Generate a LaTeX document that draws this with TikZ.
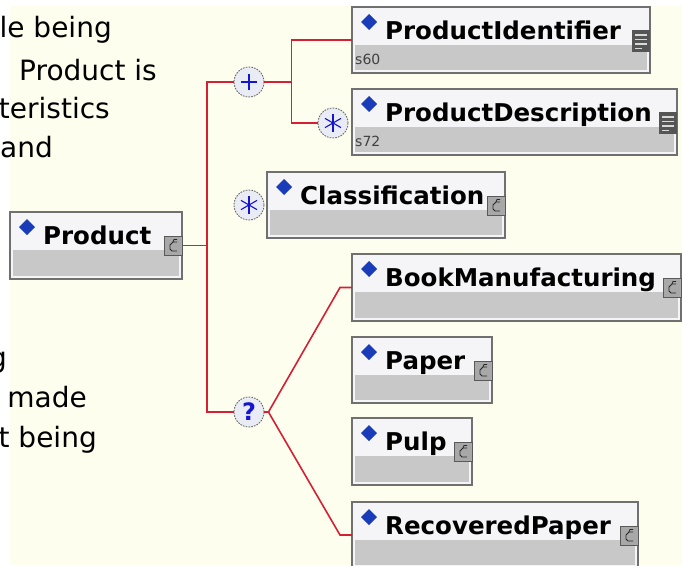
\documentclass[tikz,border=0pt]{standalone}
\usepackage{fontspec}
\setmainfont{DejaVu Sans}
\definecolor{bg}{HTML}{FEFEEF}
\definecolor{redl}{HTML}{D42035}
\definecolor{boxb}{HTML}{707070}
\definecolor{hdr}{HTML}{F5F5F8}
\definecolor{bandc}{HTML}{C8C8C8}
\definecolor{symb}{HTML}{1515D0}
\definecolor{diamc}{HTML}{1A3CB8}
\definecolor{circf}{HTML}{E9ECF4}
\definecolor{iconf}{HTML}{A8A8A8}
\definecolor{docf}{HTML}{555555}
\tikzset{
  ebox/.style={draw=boxb, fill=hdr, line width=1.5pt, rectangle, anchor=north west, inner sep=0pt, outer sep=0pt},
  bandfill/.style={fill=bandc},
  diamfill/.style={fill=diamc},
  etitle/.style={anchor=base west, inner sep=0pt, font=\bfseries\fontsize{24.5}{24.5}\selectfont},
  esub/.style={anchor=base west, inner sep=0pt, text=black!75, font=\fontsize{14}{14}\selectfont},
  iconb/.style={draw=black!65, fill=iconf, line width=1pt},
  glyph/.style={draw=black!85, line width=0.8pt},
  docl/.style={draw=white!85!black, line width=1.2pt},
  conn/.style={draw=redl, line width=1.6pt},
  circ/.style={circle, minimum size=30pt, inner sep=0pt, draw=black!60, dash pattern=on 1.6pt off 1.2pt, line width=0.9pt, fill=circf},
  symline/.style={draw=symb, line width=1.5pt},
  lt/.style={anchor=base east, inner sep=0pt, font=\fontsize{28}{28}\selectfont}
}
\newcommand{\xelem}[6]{%
  \node[ebox, minimum width=#4pt, minimum height=#5pt] (#1) at (#2,#3) {};
  \fill[bandfill] (#2+3,#3+38) rectangle (#2+#4-3,#3+#5-3);
  \fill[diamfill] (#2+17,#3+7) -- (#2+25,#3+15) -- (#2+17,#3+23) -- (#2+9,#3+15) -- cycle;
  \node[etitle] (#1-t) at (#2+33,#3+32) {#6};
}
\newcommand{\xiconc}[3]{%
  \draw[iconb] (#1+#3-18,#2+24) rectangle (#1+#3,#2+43);
  \draw[glyph] (#1+#3-5,#2+30) -- (#1+#3-9,#2+30) -- (#1+#3-12,#2+33) -- (#1+#3-12,#2+37) -- (#1+#3-10,#2+39) -- (#1+#3-5,#2+39);
  \draw[glyph] (#1+#3-9,#2+30) -- (#1+#3-8,#2+27.5) -- (#1+#3-5,#2+27.5);
}
\newcommand{\xicont}[3]{%
  \fill[docf] (#1+#3-18,#2+23) rectangle (#1+#3,#2+45);
  \draw[docl] (#1+#3-15,#2+28) -- (#1+#3-3,#2+28);
  \draw[docl] (#1+#3-15,#2+32.5) -- (#1+#3-3,#2+32.5);
  \draw[docl] (#1+#3-15,#2+37) -- (#1+#3-3,#2+37);
  \draw[docl] (#1+#3-15,#2+41.5) -- (#1+#3-8,#2+41.5);
}
\begin{document}
\begin{tikzpicture}[x=1pt,y=-1pt]
\useasboundingbox (0,0) rectangle (682,565);
\fill[white] (0,0) rectangle (682,565);
\fill[bg] (10,6) rectangle (682,565);

% left text (cut-off description)
\node[lt] (l1) at (112,37) {le being};
\node[lt] (l2) at (157,80) {Product is};
\node[lt] (l3) at (110,118) {teristics};
\node[lt] (l4) at (53,157) {and};
\node[lt] (l5) at (7,367) {g};
\node[lt] (l6) at (87,407) {made};
\node[lt] (l7) at (97,447) {t being};

% element boxes
\xelem{Prod}{10}{212}{172}{67}{Product}
\xiconc{10}{212}{172}
\xelem{PI}{352}{7}{298}{66}{ProductIdentifier}
\xicont{352}{7}{298}
\node[esub] (PI-s) at (355,64) {s60};
\xelem{PD}{352}{89}{325}{66}{ProductDescription}
\xicont{352}{89}{325}
\node[esub] (PD-s) at (355,146) {s72};
\xelem{Cl}{267}{172}{238}{66}{Classification}
\xiconc{267}{172}{238}
\xelem{BM}{352}{254}{329}{67}{BookManufacturing}
\xiconc{352}{254}{329}
\xelem{Pa}{352}{337}{140}{66}{Paper}
\xiconc{352}{337}{140}
\xelem{Pu}{352}{418}{120}{67}{Pulp}
\xiconc{352}{418}{120}
\xelem{RP}{352}{502}{286}{66}{RecoveredPaper}
\xiconc{352}{502}{286}

% compositor circles
\node[circ] (plus) at (249,82) {};
\node[circ] (st1) at (333,123) {};
\node[circ] (st2) at (249,205) {};
\node[circ, text=symb, font=\bfseries\fontsize{24}{24}\selectfont] (q) at (249,412) {?};

\draw[symline] (plus.center) ++(-8,0) -- ++(16,0);
\draw[symline] (plus.center) ++(0,-8) -- ++(0,16);
\foreach \c in {st1,st2}{
  \draw[draw=symb, line width=2.6pt] (\c.center) ++(0,-9) -- ++(0,18);
  \draw[draw=symb, line width=1.1pt] (\c.center) ++(-8,-4.6) -- ++(16,9.2);
  \draw[draw=symb, line width=1.1pt] (\c.center) ++(-8,4.6) -- ++(16,-9.2);
}

% connectors
\draw[conn] (Prod.east) -- ++(25,0) coordinate (j1);
\draw[conn] (j1) |- (plus.west);
\draw[conn] (j1) |- (q.west);
\draw[conn] (plus.east) -- ++(27,0) coordinate (j2);
\draw[conn] (j2) |- (PI.west);
\draw[conn] (j2) |- (st1.west);
\draw[conn] (q.east) -- ++(4,0) coordinate (j3);
\draw[conn] (j3) -- ([xshift=-12pt]BM.west) -- (BM.west);
\draw[conn] (j3) -- ([xshift=-12pt]RP.west) -- (RP.west);
\end{tikzpicture}
\end{document}
